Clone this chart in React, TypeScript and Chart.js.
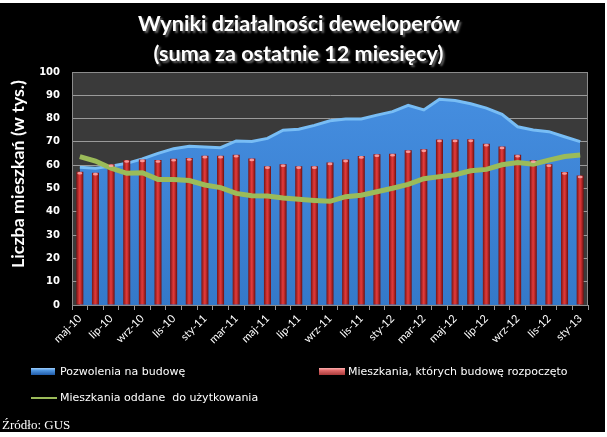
import React, { useEffect, useRef } from "react";
import { Chart, registerables } from "chart.js";

Chart.register(...registerables);

const months: string[] = [
  "maj-10", "cze-10", "lip-10", "sie-10", "wrz-10", "paź-10", "lis-10", "gru-10",
  "sty-11", "lut-11", "mar-11", "kwi-11", "maj-11", "cze-11", "lip-11", "sie-11",
  "wrz-11", "paź-11", "lis-11", "gru-11",
  "sty-12", "lut-12", "mar-12", "kwi-12", "maj-12", "cze-12", "lip-12", "sie-12",
  "wrz-12", "paź-12", "lis-12", "gru-12",
  "sty-13",
];

const permits: number[] = [
  59.1, 58.7, 59.6, 60.8, 62.7, 65.1, 67.1, 68.1, 67.8, 67.5, 70.4, 70.2, 71.5, 75.0, 75.4, 77.1,
  79.1, 79.8, 79.8, 81.5, 83.0, 85.7, 83.7, 88.3, 87.8, 86.4, 84.5, 81.8, 76.5, 75.1, 74.4, 72.2, 70.1,
];

const starts: number[] = [
  57.2, 56.8, 60.4, 62.2, 62.5, 62.2, 62.8, 63.1, 64.1, 64.1, 64.5, 62.9, 59.6, 60.4, 59.6, 59.6,
  61.2, 62.4, 64.0, 64.7, 64.9, 66.4, 66.8, 71.0, 71.0, 71.1, 69.2, 68.0, 64.5, 62.1, 60.4, 57.1, 55.6,
];

const completed: number[] = [
  63.7, 61.8, 58.7, 56.5, 56.8, 53.9, 53.9, 53.4, 51.5, 50.4, 47.9, 46.9, 46.8, 45.9, 45.4, 44.9,
  44.5, 46.5, 47.1, 48.6, 50.1, 51.8, 54.2, 55.1, 55.9, 57.6, 58.2, 60.2, 61.2, 60.4, 62.2, 63.7, 64.4,
];

const titleLines: string[] = ["Wyniki działalności deweloperów", "(suma za ostatnie 12 miesięcy)"];
const yTitle = "Liczba mieszkań (w tys.)";
const seriesNames: string[] = [
  "Pozwolenia na budowę",
  "Mieszkania, których budowę rozpoczęto",
  "Mieszkania oddane  do użytkowania",
];
const sourceText = "Źródło: GUS";

function fitSize(ctx: CanvasRenderingContext2D, text: string, weight: string, family: string, target: number) {
  ctx.font = `${weight} 100px ${family}`;
  const w = ctx.measureText(text).width;
  return (100 * target) / w;
}

const decorPlugin = {
  id: "decor",
  beforeDraw(chart: any) {
    const { ctx, width, height, chartArea: a } = chart;
    ctx.save();
    ctx.fillStyle = "#ffffff";
    ctx.fillRect(0, 0, width, height);
    ctx.fillStyle = "#000000";
    ctx.fillRect(0, 3, 605, 429);
    ctx.fillStyle = "#3a3a3a";
    ctx.fillRect(a.left, a.top, a.right - a.left, a.bottom - a.top);
    ctx.restore();
  },
  beforeDatasetsDraw(chart: any) {
    const { ctx, chartArea: a } = chart;
    ctx.save();
    ctx.strokeStyle = "#8c8c8c";
    ctx.lineWidth = 1;
    ctx.strokeRect(a.left + 0.5, a.top + 0.5, a.right - a.left - 1, a.bottom - a.top);
    ctx.restore();
  },
  afterDatasetsDraw(chart: any) {
    const { ctx } = chart;
    const meta = chart.getDatasetMeta(1);
    ctx.save();
    meta.data.forEach((bar: any) => {
      const w = bar.width;
      if (!Number.isFinite(bar.x) || !Number.isFinite(bar.y) || !Number.isFinite(w)) return;
      ctx.fillStyle = "rgba(255,170,170,0.85)";
      ctx.beginPath();
      ctx.ellipse(bar.x, bar.y + 1.5, Math.max(w / 2 - 1, 0.5), 1.3, 0, 0, Math.PI * 2);
      ctx.fill();
    });
    ctx.restore();
  },
  afterDraw(chart: any) {
    const { ctx } = chart;
    ctx.save();
    const tFam = "Lato, 'Open Sans', sans-serif";
    const size = fitSize(ctx, titleLines[0], "bold", tFam, 322);
    ctx.font = `bold ${size}px ${tFam}`;
    ctx.textAlign = "center";
    ctx.textBaseline = "middle";
    ctx.shadowColor = "rgba(110,110,110,0.9)";
    ctx.shadowOffsetX = 2;
    ctx.shadowOffsetY = 2;
    ctx.shadowBlur = 2;
    ctx.fillStyle = "#ffffff";
    ctx.fillText(titleLines[0], 299, 24);
    ctx.fillText(titleLines[1], 298.5, 54);

    const ySize = fitSize(ctx, yTitle, "bold", tFam, 188);
    ctx.shadowColor = "transparent";
    ctx.font = `bold ${ySize}px ${tFam}`;
    ctx.save();
    ctx.translate(18.5, 174);
    ctx.rotate(-Math.PI / 2);
    ctx.fillText(yTitle, 0, 0);
    ctx.restore();

    ctx.font = "11px 'DejaVu Sans', sans-serif";
    ctx.textAlign = "left";
    ctx.textBaseline = "middle";
    let g = ctx.createLinearGradient(0, 368, 0, 375);
    g.addColorStop(0, "#9fd0ff");
    g.addColorStop(0.35, "#4f95e0");
    g.addColorStop(1, "#1f5aa8");
    ctx.fillStyle = g;
    ctx.fillRect(31, 368, 24, 7);
    ctx.fillStyle = "#ffffff";
    ctx.fillText(seriesNames[0], 60, 372);
    g = ctx.createLinearGradient(0, 368, 0, 375);
    g.addColorStop(0, "#ffb0b0");
    g.addColorStop(0.35, "#e06a6a");
    g.addColorStop(1, "#a83a3a");
    ctx.fillStyle = g;
    ctx.fillRect(319, 368, 26, 7);
    ctx.fillStyle = "#ffffff";
    ctx.fillText(seriesNames[1], 348, 372);
    ctx.strokeStyle = "#9bbb59";
    ctx.lineWidth = 2;
    ctx.beginPath();
    ctx.moveTo(31, 398);
    ctx.lineTo(57, 398);
    ctx.stroke();
    ctx.fillText(seriesNames[2], 60, 398);

    ctx.font = "13px 'Liberation Serif', 'DejaVu Serif', serif";
    ctx.fillText(sourceText, 2, 426);
    ctx.restore();
  },
};

export default function App() {
  const ref = useRef<HTMLCanvasElement | null>(null);

  useEffect(() => {
    if (!ref.current) return;
    const chart = new Chart(ref.current, {
      type: "bar",
      data: {
        labels: months,
        datasets: [
          {
            type: "line",
            label: seriesNames[0],
            data: permits,
            fill: "origin",
            backgroundColor: (c: any) => {
              const a = c.chart.chartArea;
              if (!a || !Number.isFinite(a.top) || !Number.isFinite(a.bottom)) return "#3f86d8";
              const gr = c.chart.ctx.createLinearGradient(0, a.top, 0, a.bottom);
              gr.addColorStop(0, "#4790e2");
              gr.addColorStop(1, "#3479c9");
              return gr;
            },
            borderColor: "#78bdf5",
            borderWidth: 3,
            pointRadius: 0,
            tension: 0,
            order: 3,
          } as any,
          {
            type: "bar",
            label: seriesNames[1],
            data: starts,
            backgroundColor: (c: any) => {
              const ch = c.chart;
              const xs = ch.scales && ch.scales.x;
              if (!xs || c.dataIndex === undefined) return "#c0302e";
              const x = xs.getPixelForValue(c.dataIndex);
              if (!Number.isFinite(x)) return "#c0302e";
              const gr = ch.ctx.createLinearGradient(x - 3.5, 0, x + 3.5, 0);
              gr.addColorStop(0, "#7a1414");
              gr.addColorStop(0.45, "#e03a3a");
              gr.addColorStop(0.6, "#d23232");
              gr.addColorStop(1, "#6e1010");
              return gr;
            },
            borderWidth: 0,
            barPercentage: 0.45,
            categoryPercentage: 1,
            order: 2,
          } as any,
          {
            type: "line",
            label: seriesNames[2],
            data: completed,
            borderColor: "#9bbb59",
            borderWidth: 5,
            pointRadius: 0,
            fill: false,
            tension: 0,
            order: 1,
          } as any,
        ],
      },
      options: {
        responsive: false,
        animation: false,
        events: [],
        layout: { padding: { left: 0, top: 72, right: 19, bottom: 0 } },
        plugins: {
          legend: { display: false },
          title: { display: false },
          tooltip: { enabled: false },
        },
        scales: {
          x: {
            offset: true,
            grid: {
              display: true,
              offset: true,
              drawOnChartArea: false,
              drawTicks: true,
              tickLength: 5,
              color: "#9a9a9a",
            },
            border: { color: "#9a9a9a" },
            ticks: {
              autoSkip: false,
              maxRotation: 45,
              minRotation: 45,
              color: "#ffffff",
              padding: 2,
              font: { family: "Lato, 'Open Sans', sans-serif", size: 11 },
              callback: function (this: any, v: any, i: number) {
                return i % 2 === 0 ? months[i] : "";
              },
            },
            afterFit: (s: any) => {
              s.height = 132;
            },
          },
          y: {
            min: 0,
            max: 100,
            ticks: {
              stepSize: 10,
              color: "#ffffff",
              padding: 12,
              font: { family: "'DejaVu Sans', sans-serif", size: 10, weight: "bold" },
            },
            grid: { color: "#9a9a9a", drawTicks: false },
            border: { color: "#8c8c8c" },
            afterFit: (s: any) => {
              s.width = 72;
            },
          },
        },
      } as any,
      plugins: [decorPlugin],
    });
    return () => chart.destroy();
  }, []);

  return (
    <div style={{ position: "fixed", left: 0, top: 0, width: 607, height: 437, background: "#fff" }}>
      <canvas ref={ref} width={607} height={437} style={{ display: "block", width: 607, height: 437 }} />
    </div>
  );
}
